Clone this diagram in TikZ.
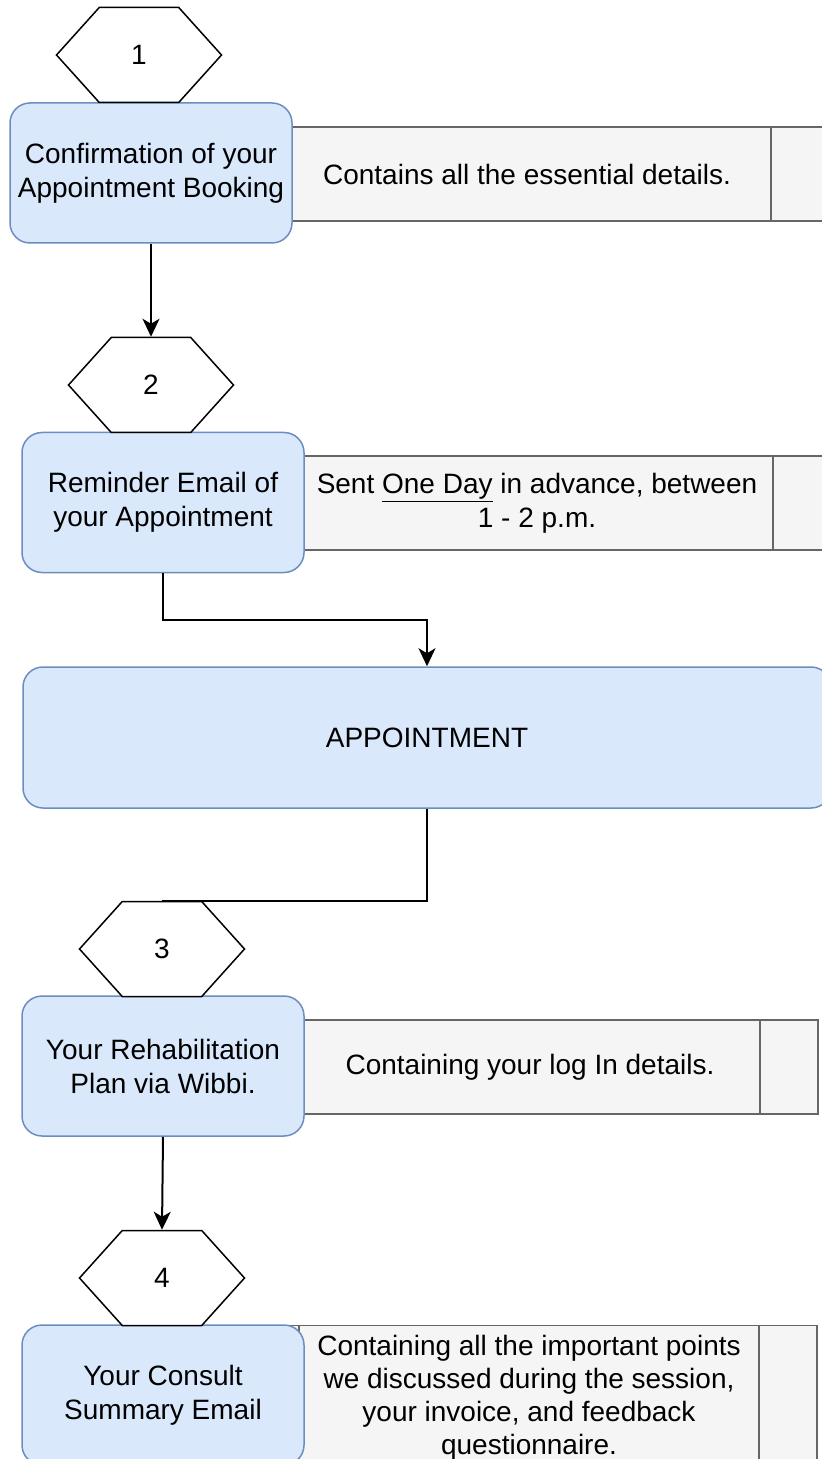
\documentclass[tikz,border=0pt]{standalone}
\usepackage{fontspec}
\setmainfont{Liberation Sans}
\usetikzlibrary{arrows.meta,shapes.symbols}
\definecolor{boxfill}{HTML}{DAE8FC}
\definecolor{boxline}{HTML}{6C8EBF}
\definecolor{panelfill}{HTML}{F5F5F5}
\definecolor{panelline}{HTML}{666666}
\tikzstyle{stepno}=[signal,signal to=west and east,signal pointer angle=96,draw=black,line width=0.75pt,fill=white,minimum width=82.5pt,minimum height=47.5pt,inner sep=0pt]
\tikzstyle{stepbox}=[rectangle,rounded corners=10pt,draw=boxline,fill=boxfill,line width=0.75pt,minimum width=141pt,minimum height=70pt,align=center,inner sep=0pt]
\tikzstyle{panel}=[rectangle,draw=panelline,fill=panelfill,line width=0.8pt,minimum width=288pt,minimum height=47pt,align=center,inner sep=0pt,
  path picture={\draw[panelline,line width=0.8pt] ([xshift=29pt]path picture bounding box.north west) -- ([xshift=29pt]path picture bounding box.south west);
                \draw[panelline,line width=0.8pt] ([xshift=-29pt]path picture bounding box.north east) -- ([xshift=-29pt]path picture bounding box.south east);}]
\tikzstyle{edge} = [draw,line width=1pt,-{Stealth[length=9pt,width=8.5pt,inset=2.5pt]}]

\begin{document}
\begin{tikzpicture}[x=0.5pt,y=-0.5pt,font=\fontsize{14}{17}\selectfont]
	\useasboundingbox (0,0) rectangle (822,1459);
	% First the grey side panels, the boxes go over them
	\node[panel,minimum width=302pt] (note1) at (527,174) {Contains all the essential details.};
	\node[panel,minimum width=294pt] (note2) at (537,503) {Sent \underline{One Day} in advance, between\\1 - 2 p.m.};
	\node[panel] (note3) at (530,1067) {Containing your log In details.};
	\node[panel,minimum height=72pt,font=\fontsize{14}{16.5}\selectfont] (note4) at (529,1397.5) {Containing all the important points\\we discussed during the session,\\your invoice, and feedback\\questionnaire.};

	% Then the step boxes
	\node[stepbox] (box1) at (151,173) {Confirmation of your\\Appointment Booking};
	\node[stepbox] (box2) at (163,502.5) {Reminder Email of\\your Appointment};
	\node[stepbox,minimum width=404pt,minimum height=70.5pt] (app) at (427,737.5) {APPOINTMENT};
	\node[stepbox] (box3) at (163,1066) {Your Rehabilitation\\Plan via Wibbi.};
	\node[stepbox] (box4) at (163,1395) {Your Consult\\Summary Email};

	% Step numbers
	\foreach \pos/\name/\num in {{(139,55)/hex1/1}, {(151,385)/hex2/2}, {(162,949)/hex3/3}, {(162,1278)/hex4/4}}
		\node[stepno] (\name) at \pos {\num};

	% Connect boxes
	\coordinate (bend1) at (427,620);
	\path[edge] (box1.south) -- (hex2.north);
	\path[edge] (box2.south) |- (bend1) -- (app.north);
	\draw[line width=1pt] (app.south) |- (hex3.north);
	\path[edge] (box3.south) -- (hex4.north);
\end{tikzpicture}
\end{document}
